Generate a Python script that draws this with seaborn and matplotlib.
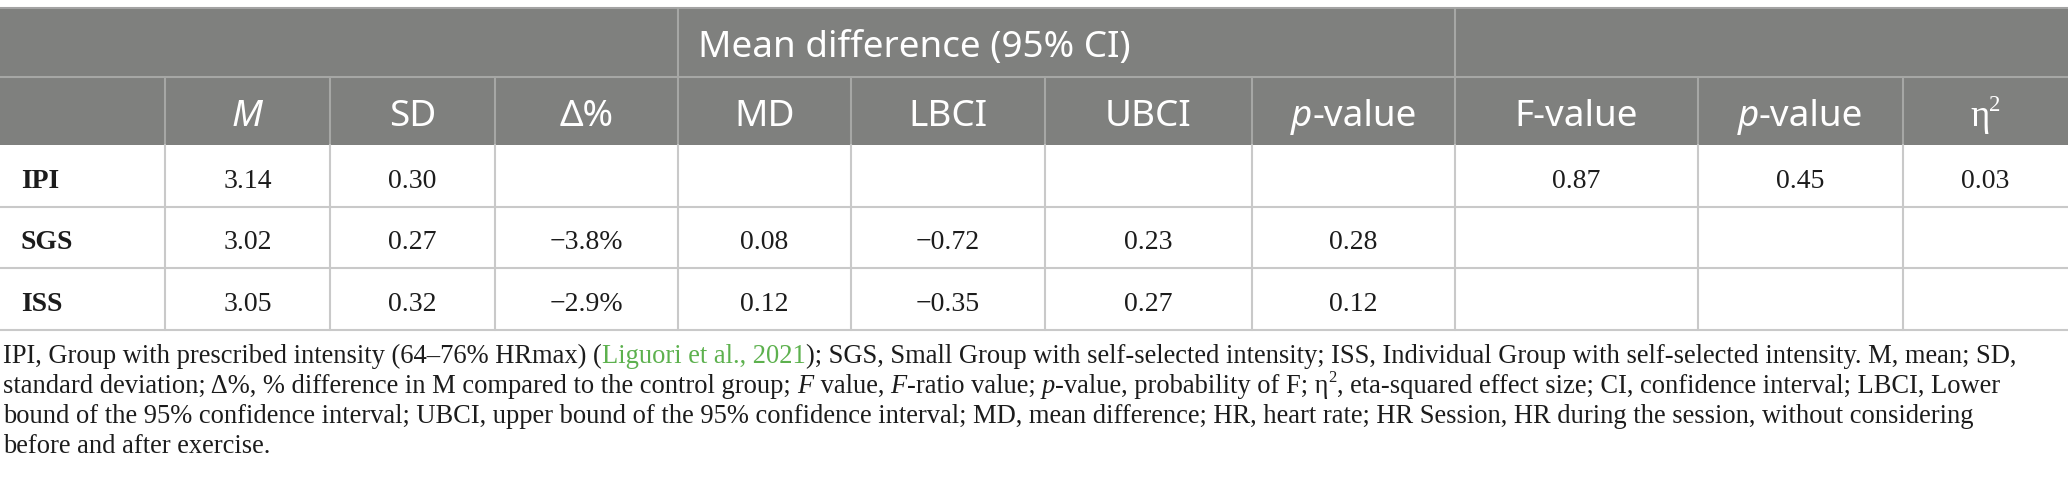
import matplotlib
matplotlib.use("Agg")
import matplotlib.pyplot as plt
import seaborn as sns
from matplotlib.patches import Rectangle

# ---------------- data ----------------
groups = ["IPI", "SGS", "ISS"]
mean_vals = [3.14, 3.02, 3.05]
sd_vals = [0.30, 0.27, 0.32]
delta_pct = [None, -3.8, -2.9]
md_vals = [None, 0.08, 0.12]
lbci_vals = [None, -0.72, -0.35]
ubci_vals = [None, 0.23, 0.27]
p_md_vals = [None, 0.28, 0.12]
f_vals = [0.87, None, None]
p_f_vals = [0.45, None, None]
eta2_vals = [0.03, None, None]

group_title = "Mean difference (95% CI)"
# header labels as runs of (text, style)
col_headers = [
    [],
    [("M", "i")],
    [("SD", "n")],
    [("\u0394%", "n")],
    [("MD", "n")],
    [("LBCI", "n")],
    [("UBCI", "n")],
    [("p", "i"), ("-value", "n")],
    [("F-value", "n")],
    [("p", "i"), ("-value", "n")],
    [("\u03b7", "n"), ("2", "s")],
]

footnote_lines = [
    [("IPI, Group with prescribed intensity (64\u201376% HRmax) (", "n"),
     ("Liguori et al., 2021", "g"),
     ("); SGS, Small Group with self-selected intensity; ISS, Individual Group with self-selected intensity. M, mean; SD,", "n")],
    [("standard deviation; \u0394%, % difference in M compared to the control group; ", "n"),
     ("F", "i"), (" value, ", "n"), ("F", "i"), ("-ratio value; ", "n"),
     ("p", "i"), ("-value, probability of F; \u03b7", "n"), ("2", "s"),
     (", eta-squared effect size; CI, confidence interval; LBCI, Lower", "n")],
    [("bound of the 95% confidence interval; UBCI, upper bound of the 95% confidence interval; MD, mean difference; HR, heart rate; HR Session, HR during the session, without considering", "n")],
    [("before and after exercise.", "n")],
]

# ---------------- layout ----------------
W, H = 2068, 500
col_edges = [0, 165, 330, 495, 678, 851, 1045, 1252, 1455, 1698, 1903, 2068]
row_edges = [8, 77, 145, 207, 268, 330]
header_fill = "#7f807e"
header_line = "#a6a7a5"
body_line = "#c9c9c9"
text_dark = "#1c1c1c"
green = "#5db14e"
SANS = ["Noto Sans", "DejaVu Sans"]
SERIF = ["Liberation Serif", "DejaVu Serif"]

sns.set_theme(style="white")
plt.rcParams["font.family"] = SERIF

fig = plt.figure(figsize=(W / 100, H / 100), dpi=100)
ax = fig.add_axes([0, 0, 1, 1])
ax.set_xlim(0, W)
ax.set_ylim(H, 0)
ax.axis("off")
renderer = fig.canvas.get_renderer()


def style_kw(style, family, size, color):
    kw = dict(family=family, fontsize=size, color=color, va="baseline", ha="left")
    if style == "i":
        kw["style"] = "italic"
    if style == "g":
        kw["color"] = green
    if style == "b":
        kw["weight"] = "bold"
    if style == "s":
        kw["fontsize"] = size * 0.62
    return kw


def measure(s, kw):
    t = ax.text(0, 0, "|" + s + "|", **kw)
    w = t.get_window_extent(renderer=renderer).width
    t.remove()
    t2 = ax.text(0, 0, "||", **kw)
    w2 = t2.get_window_extent(renderer=renderer).width
    t2.remove()
    return w - w2


def runs_width(runs, family, size, color):
    return sum(measure(s, style_kw(st, family, size, color)) for s, st in runs)


def draw_runs(x, y, runs, family, size, color, ha="left"):
    total = runs_width(runs, family, size, color)
    if ha == "center":
        x -= total / 2
    for s, st in runs:
        kw = style_kw(st, family, size, color)
        yy = y - (size * 100 / 72 * 0.42 if st == "s" else 0)
        ax.text(x, yy, s, **kw)
        x += measure(s, kw)
    return total


def fmt(v, pct=False):
    if v is None:
        return ""
    s = f"{v:.1f}%" if pct else f"{v:.2f}"
    return s.replace("-", "\u2212")


# ---------------- header background and lines ----------------
ax.add_patch(Rectangle((0, row_edges[0]), W, row_edges[2] - row_edges[0],
                       facecolor=header_fill, edgecolor="none", zorder=0))
ax.plot([0, W], [row_edges[0], row_edges[0]], color="#a3a3a3", lw=1.5, zorder=2)
ax.plot([0, W], [row_edges[1], row_edges[1]], color=header_line, lw=1.5, zorder=2)
for xe in (col_edges[4], col_edges[8]):
    ax.plot([xe, xe], [row_edges[0], row_edges[1]], color=header_line, lw=1.5, zorder=2)
for xe in col_edges[1:-1]:
    ax.plot([xe, xe], [row_edges[1], row_edges[2]], color=header_line, lw=1.5, zorder=2)

# body lines
for ye in row_edges[3:]:
    ax.plot([0, W], [ye, ye], color=body_line, lw=1.5, zorder=2)
for xe in col_edges[1:-1]:
    ax.plot([xe, xe], [row_edges[2], row_edges[-1]], color=body_line, lw=1.5, zorder=2)

# ---------------- header text ----------------
hdr_size = 25.0
w_title = runs_width([(group_title, "n")], SANS, hdr_size, "white")
hdr_size = hdr_size * 432.0 / w_title
draw_runs(698, 57, [(group_title, "n")], SANS, hdr_size, "white")
for i, runs in enumerate(col_headers):
    if not runs:
        continue
    cx = (col_edges[i] + col_edges[i + 1]) / 2
    fam = SERIF if runs[0][0] == "\u03b7" else SANS
    draw_runs(cx, 126, runs, fam, hdr_size, "white", ha="center")

# ---------------- body ----------------
body_size = 20
baselines = [188, 249, 311]
columns = [mean_vals, sd_vals, delta_pct, md_vals, lbci_vals, ubci_vals,
           p_md_vals, f_vals, p_f_vals, eta2_vals]
for r, g in enumerate(groups):
    y = baselines[r]
    ax.text(21, y, g, family=SERIF, fontsize=body_size, weight="bold",
            color=text_dark, va="baseline", ha="left")
    for c, vals in enumerate(columns):
        s = fmt(vals[r], pct=(vals is delta_pct))
        if s:
            cx = (col_edges[c + 1] + col_edges[c + 2]) / 2
            ax.text(cx, y, s, family=SERIF, fontsize=body_size, color=text_dark,
                    va="baseline", ha="center")

# ---------------- footnote ----------------
fn_size = 17.0
targets = [2014, 1995, 1991]
ratios = [t / runs_width(footnote_lines[i], SERIF, fn_size, text_dark)
          for i, t in enumerate(targets)]
fn_size = fn_size * sum(ratios) / len(ratios)
fn_baselines = [363, 393, 423, 453]
for runs, y in zip(footnote_lines, fn_baselines):
    draw_runs(3, y, runs, SERIF, fn_size, text_dark)

fig.savefig("out.png", dpi=100, facecolor="white")
